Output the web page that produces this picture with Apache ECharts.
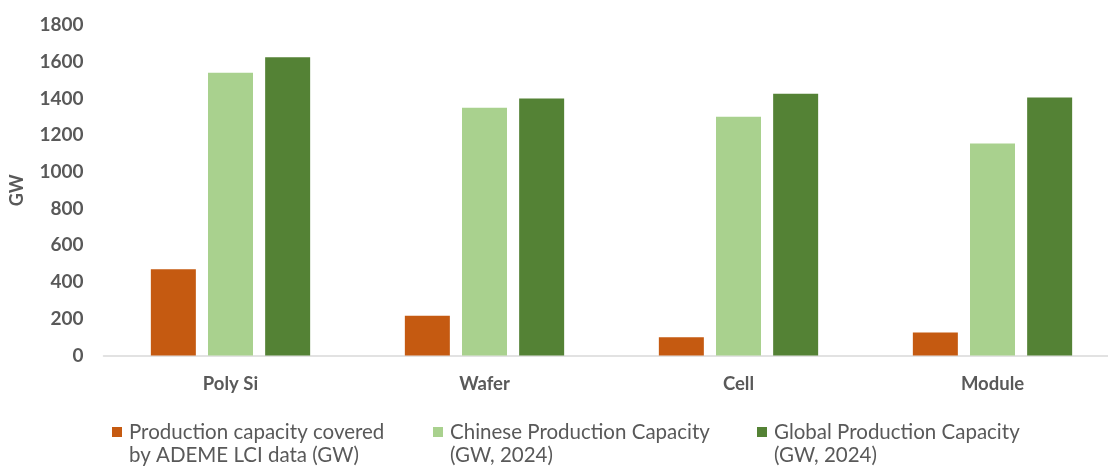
<!DOCTYPE html>
<html>
<head>
<meta charset="utf-8">
<script src="https://cdn.jsdelivr.net/npm/echarts@6/dist/echarts.min.js"></script>
<style>
html,body{margin:0;padding:0;background:#fff;}
#chart{width:1108px;height:466px;overflow:hidden;}
</style>
</head>
<body>
<div id="chart"></div>
<script>
const categories = ['Poly Si', 'Wafer', 'Cell', 'Module'];
const seriesNames = [
  'Production capacity covered\nby ADEME LCI data (GW)',
  'Chinese Production Capacity\n(GW, 2024)',
  'Global Production Capacity\n(GW, 2024)'
];
const ademeValues = [470, 217, 100, 125];
const chineseValues = [1540, 1350, 1300, 1155];
const globalValues = [1625, 1400, 1425, 1405];
const yTicks = { min: 0, max: 1800, interval: 200 };
const yAxisName = 'GW';

const colors = ['#C55A11', '#A9D18E', '#548235'];
const FONT = 'Lato';
const TXT = '#595959';
const LH = 23;
const ICON_H = 2 * LH;
// square marker aligned with the first text line; tiny invisible points fix the box height
const iconPath = 'path://M0,0h0.01v0.01h-0.01z M0,' + (LH / 2 - 5) + 'h10v10h-10z M0,' + ICON_H + 'h0.01v-0.01h-0.01z';

const chart = echarts.init(document.getElementById('chart'));
const legendLefts = [112, 433, 757];
const option = {
  animation: false,
  backgroundColor: '#fff',
  grid: {
    left: 103.5, width: 1016, top: 25, height: 330.5,
    containLabel: false, outerBoundsMode: 'none'
  },
  legend: seriesNames.map((n, i) => ({
    data: [{ name: n, icon: iconPath }],
    left: legendLefts[i],
    top: 432 - LH / 2,
    padding: 0,
    itemWidth: 10,
    itemHeight: ICON_H,
    selectedMode: false,
    textStyle: {
      fontFamily: FONT, fontSize: 20.5, color: TXT, lineHeight: LH,
      padding: [0, 0, 0, 2]
    }
  })),
  xAxis: {
    type: 'category',
    data: categories,
    axisLine: { show: true, lineStyle: { color: '#D9D9D9', width: 1.5 } },
    axisTick: { show: false },
    axisLabel: { fontFamily: FONT, fontSize: 18.5, fontWeight: 'bold', color: TXT, margin: 19 }
  },
  yAxis: {
    type: 'value',
    min: yTicks.min, max: yTicks.max, interval: yTicks.interval,
    name: yAxisName,
    nameLocation: 'middle',
    nameRotate: 90,
    nameGap: 77,
    nameTextStyle: { fontFamily: FONT, fontSize: 18, fontWeight: 'bold', color: TXT },
    axisLine: { show: false },
    axisTick: { show: false },
    splitLine: { show: false },
    axisLabel: {
      fontFamily: FONT, fontSize: 19, fontWeight: 'bold', color: TXT, margin: 20,
      formatter: v => String(v)
    }
  },
  series: [ademeValues, chineseValues, globalValues].map((d, i) => ({
    name: seriesNames[i],
    type: 'bar',
    data: d,
    barWidth: 45,
    barGap: '27%',
    barCategoryGap: '37%',
    itemStyle: { color: colors[i] }
  }))
};
chart.setOption(option);
</script>
</body>
</html>
